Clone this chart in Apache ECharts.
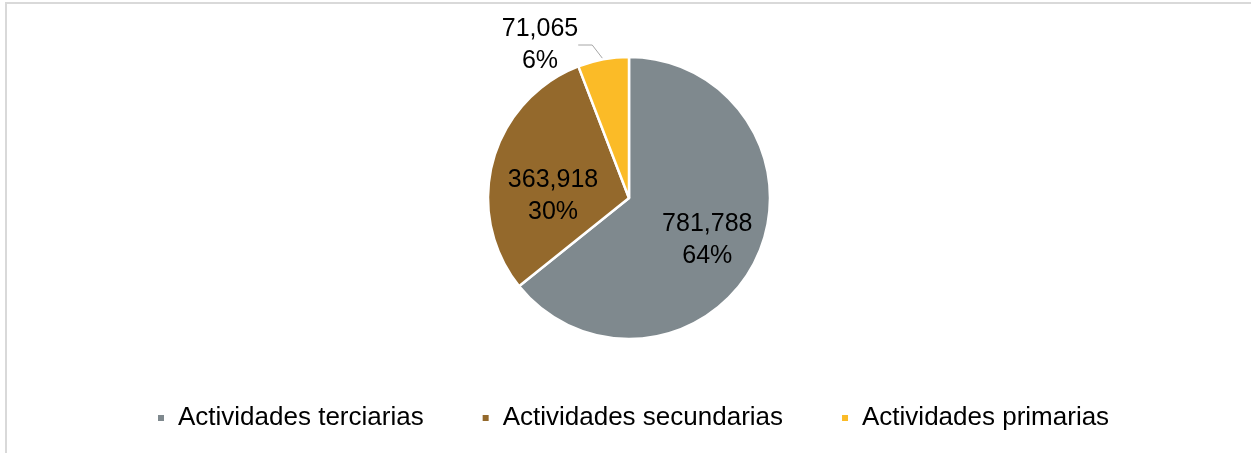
<!DOCTYPE html>
<html>
<head>
<meta charset="utf-8">
<script src="https://cdn.jsdelivr.net/npm/echarts@6/dist/echarts.min.js"></script>
<style>
  html, body { margin: 0; padding: 0; background: #fff; }
  #frame { position: absolute; left: 5px; top: 2px; width: 1400px; height: 600px;
           border-top: 2px solid #d9d9d9; border-left: 2px solid #d9d9d9; }
  #chart { position: absolute; left: 0; top: 0; width: 1251px; height: 453px; }
</style>
</head>
<body>
<div id="frame"></div>
<div id="chart"></div>
<script>
const categories = ['Actividades terciarias', 'Actividades secundarias', 'Actividades primarias'];
const values = [781788, 363918, 71065];
const colors = ['#7f898e', '#94692c', '#fbbb27'];

const FONT = '"Liberation Sans", Arial, sans-serif';
const fmt = p => p.value.toLocaleString('en-US') + '\n' + Math.round(p.percent) + '%';

const labelCfg = [
  { position: 'inside', offset: [12, 10] },
  { position: 'inside', offset: [-5, 17] },
  { position: 'outside' }
];

const data = categories.map((name, i) => ({
  name: name,
  value: values[i],
  itemStyle: { color: colors[i] },
  label: labelCfg[i],
  labelLine: { show: i === 2 }
}));

const chart = echarts.init(document.getElementById('chart'), null, { renderer: 'canvas' });
chart.setOption({
  animation: false,
  backgroundColor: 'transparent',
  legend: {
    data: categories,
    left: 151,
    top: 398,
    icon: 'rect',
    itemWidth: 8,
    itemHeight: 8,
    itemGap: 57,
    textStyle: { fontFamily: FONT, fontSize: 26, color: '#000', padding: [0, 0, 0, 8], lineHeight: 30 }
  },
  series: [{
    type: 'pie',
    center: [629, 198],
    radius: [0, 141],
    startAngle: 90,
    clockwise: true,
    avoidLabelOverlap: false,
    itemStyle: { borderColor: '#fff', borderWidth: 2.5 },
    label: {
      show: true,
      formatter: fmt,
      fontFamily: FONT,
      fontSize: 25,
      lineHeight: 32,
      color: '#000',
      align: 'center'
    },
    labelLine: {
      show: true,
      length: 24,
      length2: 14,
      lineStyle: { color: '#a6a6a6', width: 1 }
    },
    labelLayout: function (params) {
      if (params.dataIndex === 2) {
        return { x: 540, y: 45, align: 'center', verticalAlign: 'middle' };
      }
      return {};
    },
    emphasis: { disabled: true },
    data: data
  }]
});
</script>
</body>
</html>
